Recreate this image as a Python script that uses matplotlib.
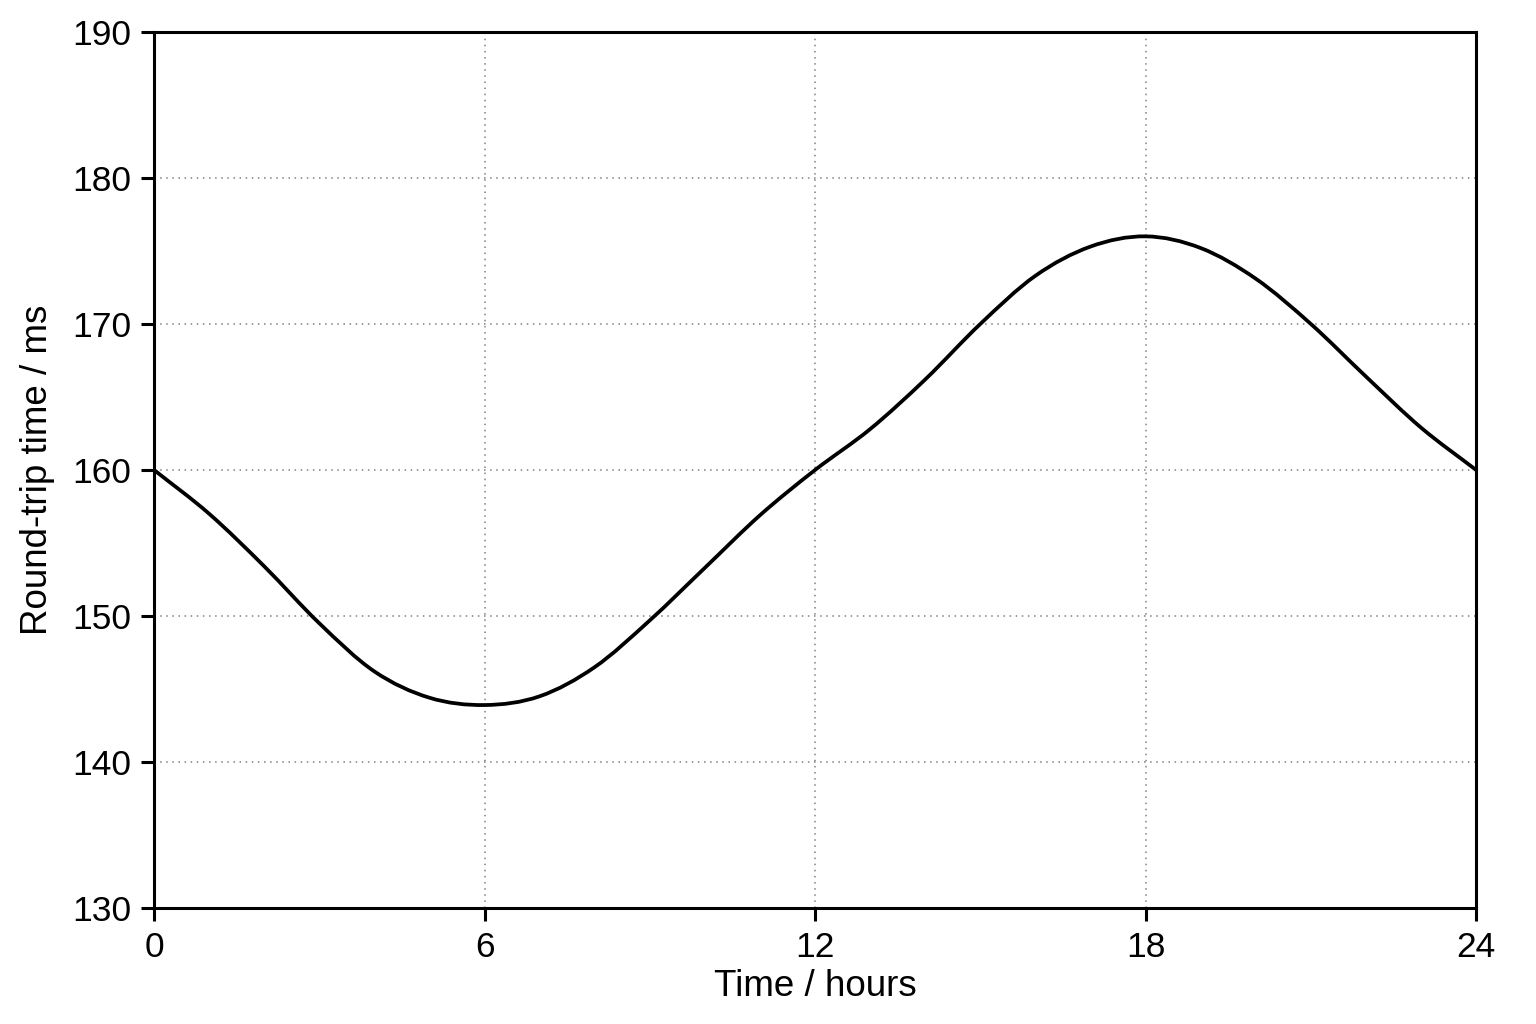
import matplotlib
matplotlib.use("Agg")
import matplotlib.pyplot as plt
from matplotlib import font_manager
from matplotlib.path import Path
from matplotlib.patches import PathPatch

hours = [0, 1, 2, 3, 4, 5, 6, 7, 8, 9, 10, 11, 12,
         13, 14, 15, 16, 17, 18, 19, 20, 21, 22, 23, 24]
rtt_ms = [160.0, 157.0, 153.4, 149.5, 146.2, 144.4, 143.9, 144.5, 146.5, 149.7, 153.3, 156.9, 160.0,
          162.8, 166.2, 170.0, 173.3, 175.3, 176.0, 175.2, 173.1, 170.0, 166.4, 162.9, 160.0]
x_ticks = [0, 6, 12, 18, 24]
y_ticks = [130, 140, 150, 160, 170, 180, 190]

names = {f.name for f in font_manager.fontManager.ttflist}
narrow = "Liberation Sans Narrow" if "Liberation Sans Narrow" in names else "Liberation Sans"

fig = plt.figure(figsize=(15.36, 10.24), dpi=100)
ax = fig.add_axes([0.1003, 0.1133, 0.8607, 0.8555])

# smooth curve through the read points (Catmull-Rom as cubic Bezier segments)
n = len(hours)
verts = [(hours[0], rtt_ms[0])]
codes = [Path.MOVETO]
for i in range(n - 1):
    x1, y1 = hours[i], rtt_ms[i]
    x2, y2 = hours[i + 1], rtt_ms[i + 1]
    if i > 0:
        x0, y0 = hours[i - 1], rtt_ms[i - 1]
    else:
        x0, y0 = 2 * x1 - x2, 2 * y1 - y2
    if i + 2 < n:
        x3, y3 = hours[i + 2], rtt_ms[i + 2]
    else:
        x3, y3 = 2 * x2 - x1, 2 * y2 - y1
    c1 = (x1 + (x2 - x0) / 6.0, y1 + (y2 - y0) / 6.0)
    c2 = (x2 - (x3 - x1) / 6.0, y2 - (y3 - y1) / 6.0)
    verts += [c1, c2, (x2, y2)]
    codes += [Path.CURVE4] * 3
ax.add_patch(PathPatch(Path(verts, codes), facecolor="none", edgecolor="black",
                       lw=2.7, capstyle="round", joinstyle="round", zorder=3))

ax.set_xlim(0, 24)
ax.set_ylim(130, 190)
ax.set_xticks(x_ticks)
ax.set_yticks(y_ticks)
ax.grid(True, color="#808080", linestyle=(0, (1, 3)), linewidth=1.1)

for s in ax.spines.values():
    s.set_linewidth(2.2)
    s.set_color("black")

ax.tick_params(axis="both", direction="out", length=9.5, width=2.2, pad=7,
               labelsize=25.5, colors="black")
for lab in ax.get_xticklabels() + ax.get_yticklabels():
    lab.set_family(narrow)

ax.set_xlabel("Time / hours", family="Liberation Sans", fontsize=26.5, labelpad=4)
ax.set_ylabel("Round-trip time / ms", family="Liberation Sans", fontsize=26.5, labelpad=12)

fig.savefig("out.png", dpi=100, facecolor="white")
